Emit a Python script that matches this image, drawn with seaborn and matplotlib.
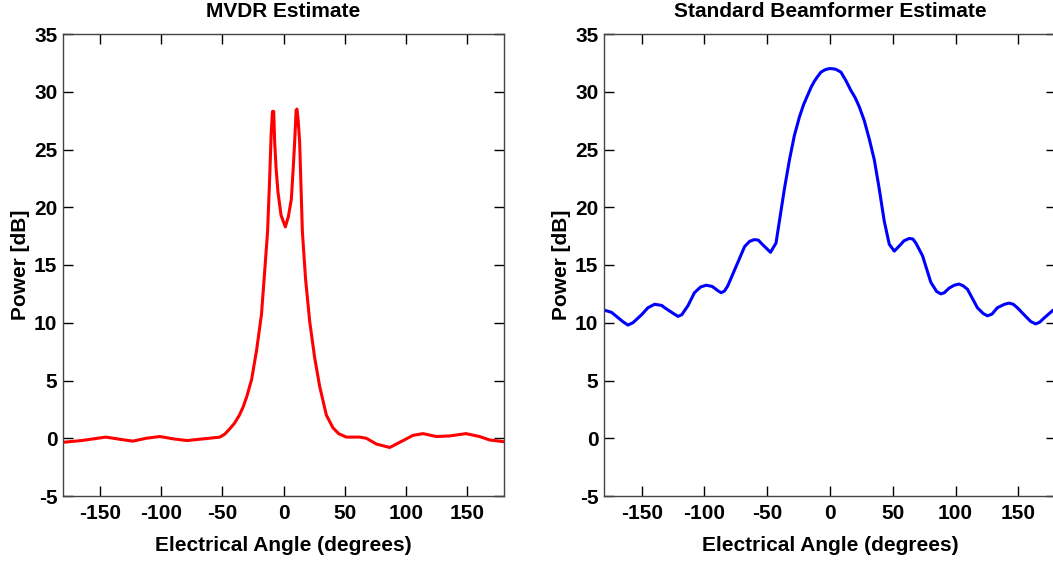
import matplotlib
matplotlib.use("Agg")
import matplotlib.pyplot as plt
import seaborn as sns
import pandas as pd

# MVDR estimate (red)
mvdr_angle = [-180, -165, -145, -133, -123, -112, -101, -90, -79, -65, -52, -48, -44, -40, -36, -33, -30,
              -26, -22, -18, -15.6, -13, -11.3, -10, -9, -8, -7.2, -6, -4.5, -2, 1.5, 4, 6.4, 8, 9.1, 10.3, 11,
              12, 13.2, 15.4, 18, 21.4, 25.4, 29.5, 35, 40.4, 45, 51.3, 62, 67.6, 75.8, 86.7, 97.6,
              105.7, 113.9, 124.8, 135.6, 149, 160, 168.3, 180]
mvdr_power = [-0.35, -0.2, 0.1, -0.1, -0.25, 0.0, 0.15, -0.05, -0.2, -0.05, 0.1, 0.35, 0.8, 1.3, 2.0, 2.7, 3.6,
              5.1, 7.6, 10.7, 14.1, 17.9, 22.5, 26.5, 28.3, 28.3, 25.6, 23.3, 21.3, 19.3, 18.3, 19.2, 20.7, 23.5, 25.6, 28.4, 28.5,
              27.5, 25.6, 17.9, 13.8, 10.1, 7.0, 4.5, 2.0, 0.9, 0.4, 0.1, 0.1, 0.0, -0.5, -0.8, -0.2,
              0.25, 0.4, 0.15, 0.2, 0.4, 0.15, -0.15, -0.3]

# Standard beamformer estimate (blue)
bf_angle = [-180, -174, -165, -161, -157, -150, -145, -139.7, -134, -131.7, -124, -121, -118, -113, -108,
            -103, -98.6, -94, -92, -89, -86.7, -84, -81.4, -74.7, -68, -64, -60.2, -57, -54.9, -47.4, -43,
            -40.3, -36.3, -32.3, -28.4, -24.4, -21, -17.8, -15, -12.5, -10, -7.2, -4,
            -1, 1.5, 4.5, 8.7, 12.5, 16.7, 20, 23.3, 27.3, 31.3, 35.3, 39.2, 43.2, 47.2, 51.2, 56.5, 59, 63.1,
            66, 68.4, 73.7, 80.3, 85, 88.3, 91, 94.9, 99, 102.8, 106, 109.5, 117.4, 122, 125.4, 129, 133.3,
            139, 142.6, 146, 149.2, 157.2, 160, 163.8, 167, 170.4, 177.8, 180]
bf_power = [11.1, 10.9, 10.1, 9.8, 10.0, 10.7, 11.3, 11.6, 11.5, 11.3, 10.75, 10.55, 10.7, 11.5, 12.6,
            13.1, 13.25, 13.15, 13.0, 12.75, 12.6, 12.75, 13.2, 14.9, 16.6, 17.05, 17.2, 17.15, 16.9, 16.1, 16.9,
            18.8, 21.6, 24.1, 26.2, 27.8, 28.9, 29.7, 30.4, 30.9, 31.3, 31.7, 31.9,
            32.0, 32.0, 31.95, 31.7, 31.0, 30.1, 29.5, 28.7, 27.5, 25.9, 24.1, 21.6, 18.8, 16.8, 16.2, 16.8, 17.1, 17.3,
            17.25, 16.9, 15.8, 13.5, 12.7, 12.5, 12.6, 13.0, 13.25, 13.35, 13.2, 12.9, 11.3, 10.8, 10.6, 10.75, 11.3,
            11.6, 11.7, 11.6, 11.3, 10.4, 10.1, 9.9, 10.05, 10.4, 11.1, 11.2]

x_ticks = [-150, -100, -50, 0, 50, 100, 150]
y_ticks = [-5, 0, 5, 10, 15, 20, 25, 30, 35]
titles = ["MVDR Estimate", "Standard Beamformer Estimate"]

sns.set_style("ticks")
plt.rcParams['font.family'] = ['Liberation Sans', 'DejaVu Sans']
plt.rcParams['font.weight'] = 'bold'
plt.rcParams['text.color'] = 'black'
plt.rcParams['axes.labelcolor'] = 'black'

W, H = 1053, 561
fig = plt.figure(figsize=(W / 100, H / 100), dpi=100)
ax1 = fig.add_axes([63 / W, 65 / H, 441 / W, 462 / H])
ax2 = fig.add_axes([604 / W, 65 / H, 452 / W, 462 / H])

df1 = pd.DataFrame({"angle": mvdr_angle, "power": mvdr_power})
df2 = pd.DataFrame({"angle": bf_angle, "power": bf_power})
sns.lineplot(data=df1, x="angle", y="power", ax=ax1, color="#ff0000", linewidth=2.2, sort=False)
sns.lineplot(data=df2, x="angle", y="power", ax=ax2, color="#0000ff", linewidth=2.2, sort=False)

for ax, t in zip([ax1, ax2], titles):
    ax.set_xlim(-180, 180)
    ax.set_ylim(-5, 35)
    ax.set_xticks(x_ticks)
    ax.set_yticks(y_ticks)
    ax.set_xticklabels([str(v) for v in x_ticks], fontsize=15, fontweight='bold')
    ax.set_yticklabels([str(v) for v in y_ticks], fontsize=15, fontweight='bold')
    ax.tick_params(axis='x', direction='in', length=7, width=1, top=True, pad=6, colors='black')
    ax.tick_params(axis='y', direction='in', length=7, width=1, right=True, pad=4, colors='black')
    for s in ax.spines.values():
        s.set_visible(True)
        s.set_color('#444444')
        s.set_linewidth(1)
    ax.set_title(t, fontsize=15, fontweight='bold', pad=12, color='black')
    ax.set_xlabel("Electrical Angle (degrees)", fontsize=15, fontweight='bold', labelpad=9, color='black')
    ax.set_ylabel("Power [dB]", fontsize=15, fontweight='bold', labelpad=3, color='black')

fig.savefig("out.png", dpi=100)
